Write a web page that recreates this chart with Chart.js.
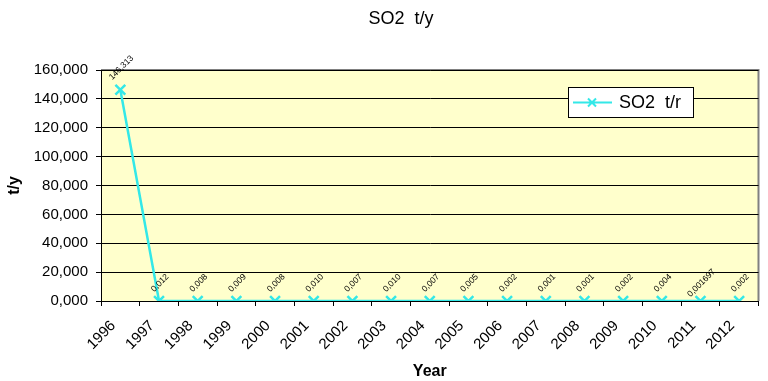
<!DOCTYPE html>
<html>
<head>
<meta charset="utf-8">
<script src="https://cdn.jsdelivr.net/npm/chart.js@4/dist/chart.umd.min.js"></script>
<style>
  html, body { margin: 0; padding: 0; background: #fff; }
  #wrap { width: 768px; height: 381px; }
</style>
</head>
<body>
<div id="wrap"><canvas id="so2Chart"></canvas></div>
<script>
// data
const years = ['1996', '1997', '1998', '1999', '2000', '2001', '2002', '2003', '2004',
               '2005', '2006', '2007', '2008', '2009', '2010', '2011', '2012'];
const so2Values = [146.313, 0.012, 0.008, 0.009, 0.008, 0.010, 0.007, 0.010, 0.007,
                   0.005, 0.002, 0.001, 0.001, 0.002, 0.004, 0.001697, 0.002];
const pointLabels = ['146,313', '0,012', '0,008', '0,009', '0,008', '0,010', '0,007', '0,010', '0,007',
                     '0,005', '0,002', '0,001', '0,001', '0,002', '0,004', '0,001697', '0,002'];
const chartTitle = 'SO2  t/y';

const FONT = 'Arial, "Liberation Sans", sans-serif';
const lineColor = '#33e8e8';

// pale yellow plot area + grey frame
const plotBg = {
    id: 'plotBg',
    beforeDraw(chart) {
        const { ctx, chartArea: a } = chart;
        ctx.save();
        ctx.fillStyle = '#ffffcc';
        ctx.fillRect(a.left, a.top, a.right - a.left, a.bottom - a.top);
        ctx.strokeStyle = '#808080';
        ctx.lineWidth = 2;
        ctx.beginPath();
        ctx.moveTo(a.left, a.top);
        ctx.lineTo(a.right, a.top);
        ctx.lineTo(a.right, a.bottom);
        ctx.stroke();
        ctx.restore();
    }
};

// title sits a bit right of the canvas centre in the original
const offTitle = {
    id: 'offTitle',
    afterDraw(chart) {
        const { ctx } = chart;
        ctx.save();
        ctx.font = '18px ' + FONT;
        ctx.fillStyle = '#000';
        ctx.textAlign = 'center';
        ctx.textBaseline = 'middle';
        ctx.fillText(chartTitle, 401, 19);
        ctx.restore();
    }
};

// small rotated value labels above each point
const valueLabels = {
    id: 'valueLabels',
    afterDatasetsDraw(chart) {
        const { ctx } = chart;
        const meta = chart.getDatasetMeta(0);
        ctx.save();
        ctx.font = '8.5px ' + FONT;
        ctx.fillStyle = '#000';
        ctx.textAlign = 'center';
        ctx.textBaseline = 'middle';
        meta.data.forEach((pt, i) => {
            ctx.save();
            ctx.translate(pt.x + 1, pt.y - (i === 0 ? 22 : 18));
            ctx.rotate(-Math.PI / 4);
            ctx.fillText(pointLabels[i], 0, 0);
            ctx.restore();
        });
        ctx.restore();
    }
};

// legend box inside the plot
const boxLegend = {
    id: 'boxLegend',
    afterDraw(chart) {
        const { ctx } = chart;
        const x = 568, y = 87, w = 125, h = 30;
        ctx.save();
        ctx.fillStyle = '#fff';
        ctx.fillRect(x, y, w, h);
        ctx.strokeStyle = '#000';
        ctx.lineWidth = 1;
        ctx.strokeRect(x + 0.5, y + 0.5, w, h);
        const my = y + h / 2 + 0.5;
        ctx.strokeStyle = lineColor;
        ctx.lineWidth = 2;
        ctx.beginPath();
        ctx.moveTo(x + 5, my);
        ctx.lineTo(x + 44, my);
        ctx.moveTo(x + 20, my - 4);
        ctx.lineTo(x + 28, my + 4);
        ctx.moveTo(x + 20, my + 4);
        ctx.lineTo(x + 28, my - 4);
        ctx.stroke();
        ctx.fillStyle = '#000';
        ctx.font = '18px ' + FONT;
        ctx.textBaseline = 'middle';
        ctx.fillText(chart.data.datasets[0].label, x + 51, my + 1);
        ctx.restore();
    }
};

new Chart(document.getElementById('so2Chart'), {
    type: 'line',
    data: {
        labels: years,
        datasets: [{
            label: 'SO2  t/r',
            data: so2Values,
            borderColor: lineColor,
            backgroundColor: lineColor,
            borderWidth: 2.5,
            pointStyle: 'crossRot',
            pointRadius: 7,
            pointBorderWidth: 2.5,
            tension: 0
        }]
    },
    options: {
        responsive: true,
        maintainAspectRatio: false,
        animation: false,
        layout: { padding: { top: 70, right: 9, left: 5, bottom: 0 } },
        plugins: {
            legend: { display: false },
            tooltip: { enabled: false },
            title: { display: false }
        },
        scales: {
            x: {
                offset: true,
                grid: { offset: true, drawOnChartArea: false, color: '#000', tickLength: 5, tickColor: '#000' },
                border: { color: '#000', width: 1 },
                ticks: {
                    color: '#000',
                    font: { family: FONT, size: 15 },
                    minRotation: 45,
                    maxRotation: 45,
                    padding: 11,
                    labelOffset: -7
                },
                title: {
                    display: true,
                    text: 'Year',
                    color: '#000',
                    font: { family: FONT, size: 16, weight: 'bold' },
                    padding: { top: 0, bottom: 0 }
                },
                afterFit(scale) { scale.height = 80; }
            },
            y: {
                min: 0,
                max: 160,
                grid: { color: '#000', tickLength: 5, tickColor: '#000' },
                border: { color: '#000', width: 1 },
                ticks: {
                    stepSize: 20,
                    color: '#000',
                    font: { family: FONT, size: 15 },
                    padding: 8,
                    callback: v => v.toFixed(3).replace('.', ',')
                },
                title: {
                    display: true,
                    text: 't/y',
                    color: '#000',
                    font: { family: FONT, size: 16, weight: 'bold' },
                    padding: { top: 0, bottom: 8 }
                },
                afterFit(scale) { scale.width = 96; }
            }
        }
    },
    plugins: [plotBg, offTitle, valueLabels, boxLegend]
});
</script>
</body>
</html>
